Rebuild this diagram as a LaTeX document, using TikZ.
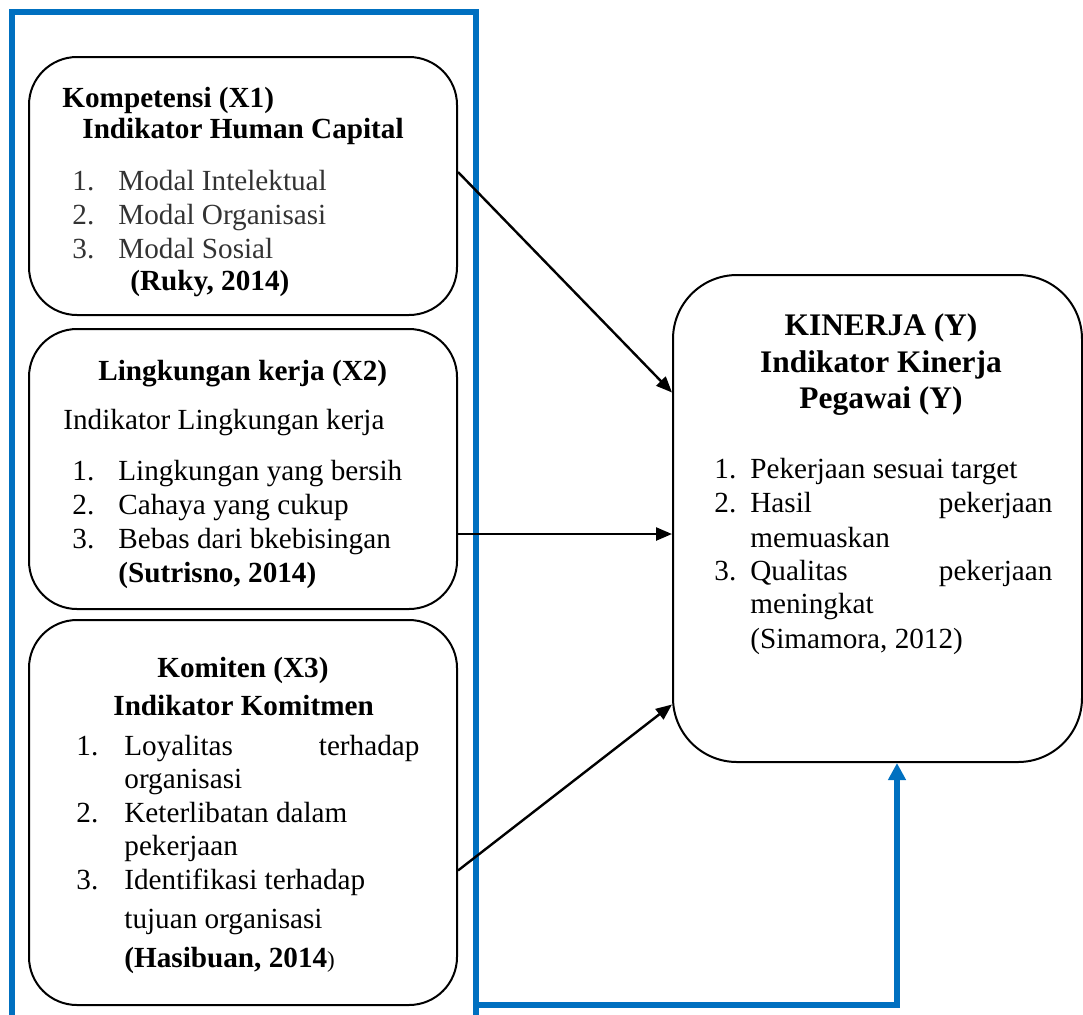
\documentclass[tikz,border=0pt]{standalone}
\usepackage{fontspec}
\setmainfont{Liberation Serif}
\usetikzlibrary{arrows.meta}
\definecolor{frameblue}{HTML}{0070C0}
\definecolor{itemgray}{HTML}{333333}
\tikzset{
	box/.style = {draw, line width = 1pt, rounded corners = 24pt, minimum width = 214pt, inner sep = 0pt},
	txt/.style = {anchor = base west, inner sep = 0pt, font = \fontsize{14.6}{16}\selectfont},
	ttl/.style = {txt, font = \fontsize{14.6}{16}\selectfont\bfseries},
	arr/.style = {line width = 1.2pt, -{Triangle[length = 8pt, width = 6.5pt]}},
	feedback/.style = {frameblue, line width = 3pt, -{Triangle[length = 8.5pt, width = 8.5pt]}}
}

\begin{document}
\begin{tikzpicture}[x = 0.5pt, y = -0.5pt]
	\useasboundingbox (0,0) rectangle (1083,1014);
	% blue frame round the three boxes
	\draw[frameblue, line width = 3pt] (12,1030) -- (12,12) -- (476,12) -- (476,1030);
	% boxes
	\node[box, minimum height = 129pt] (x1box) at (243,186) {};
	\node[box, minimum height = 140pt] (x2box) at (243,469) {};
	\node[box, minimum height = 192.5pt] (x3box) at (243,812.5) {};
	\node[box, rounded corners = 32pt, minimum width = 204.5pt, minimum height = 243.5pt] (kinerja) at (877.5,518.5) {};
	% Kompetensi (X1)
	\node[ttl] (x1t1) at (62,107) {Kompetensi (X1)};
	\node[ttl] (x1t2) at (82,138) {Indikator Human Capital};
	\node[txt, text = itemgray] (x1i1) at (72,190) {\makebox[23pt][l]{1.}Modal Intelektual};
	\node[txt, text = itemgray] (x1i2) at (72,224) {\makebox[23pt][l]{2.}Modal Organisasi};
	\node[txt, text = itemgray] (x1i3) at (72,258) {\makebox[23pt][l]{3.}Modal Sosial};
	\node[ttl] (x1src) at (130,290) {(Ruky, 2014)};
	% Lingkungan kerja (X2)
	\node[ttl] (x2t1) at (98,380) {Lingkungan kerja (X2)};
	\node[txt] (x2t2) at (63,429) {Indikator Lingkungan kerja};
	\node[txt] (x2i1) at (72,480) {\makebox[23pt][l]{1.}Lingkungan yang bersih};
	\node[txt] (x2i2) at (72,514) {\makebox[23pt][l]{2.}Cahaya yang cukup};
	\node[txt] (x2i3) at (72,548) {\makebox[23pt][l]{3.}Bebas dari bkebisingan};
	\node[ttl] (x2src) at (118,582) {(Sutrisno, 2014)};
	% Komiten (X3)
	\node[ttl] (x3t1) at (157,677) {Komiten (X3)};
	\node[ttl] (x3t2) at (113,715) {Indikator Komitmen};
	\node[txt] (x3i1) at (76,755) {\makebox[24pt][l]{1.}\hbox to 147.5pt{Loyalitas\hfill terhadap}};
	\node[txt] (x3i1b) at (124,788) {organisasi};
	\node[txt] (x3i2) at (76,822) {\makebox[24pt][l]{2.}Keterlibatan dalam};
	\node[txt] (x3i2b) at (124,855) {pekerjaan};
	\node[txt] (x3i3) at (76,889) {\makebox[24pt][l]{3.}Identifikasi terhadap};
	\node[txt] (x3i3b) at (124,928) {tujuan organisasi};
	\node[txt] (x3src) at (124,967) {\textbf{(Hasibuan, 2014}{\fontsize{11.5}{13}\selectfont)}};
	% Kinerja (Y)
	\node[ttl, anchor = base, font = \fontsize{15.7}{17}\selectfont\bfseries] (yt1) at (881,335) {KINERJA (Y)};
	\node[ttl, anchor = base, font = \fontsize{15.7}{17}\selectfont\bfseries] (yt2) at (881,372) {Indikator Kinerja};
	\node[ttl, anchor = base, font = \fontsize{15.7}{17}\selectfont\bfseries] (yt3) at (881,408) {Pegawai (Y)};
	\node[txt] (yi1) at (714,478) {\makebox[18pt][l]{1.}Pekerjaan sesuai target};
	\node[txt] (yi2) at (714,512) {\makebox[18pt][l]{2.}\hbox to 151pt{Hasil\hfill pekerjaan}};
	\node[txt] (yi2b) at (750,547) {memuaskan};
	\node[txt] (yi3) at (714,580) {\makebox[18pt][l]{3.}\hbox to 151pt{Qualitas\hfill pekerjaan}};
	\node[txt] (yi3b) at (750,613) {meningkat};
	\node[txt] (ysrc) at (750,648) {(Simamora, 2012)};
	% arrows
	\draw[arr] ([yshift = 7pt]x1box.east) -- ([yshift = 63pt]kinerja.west);
	\draw[arr] ([yshift = -32.5pt]x2box.east) -- ([yshift = -32.5pt]x2box.east -| kinerja.west);
	\draw[arr] ([yshift = -29pt]x3box.east) -- ([yshift = -93pt]kinerja.west);
	\coordinate (fbstart) at (476,1005);
	\draw[feedback] (fbstart) -| ([xshift = 9.75pt]kinerja.south);
\end{tikzpicture}
\end{document}
